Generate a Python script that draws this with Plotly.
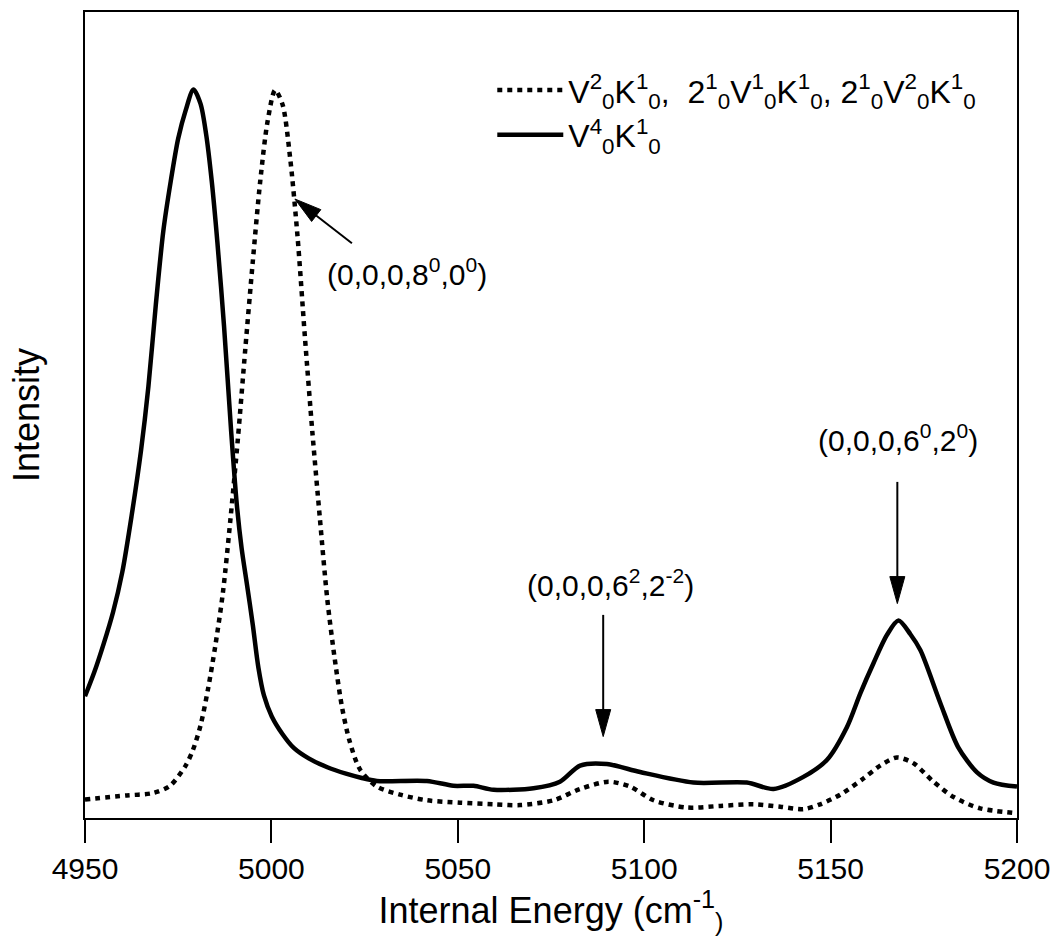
import math
import plotly.graph_objects as go

# Spectrum of the V^2_0K^1_0 / 2^1_0V^1_0K^1_0 / 2^1_0V^2_0K^1_0 band group (dotted)
energy_dotted = [4950.0, 4961.2, 4968.3, 4972.8, 4977.0, 4979.0, 4981.0, 4983.0, 4985.0,
                 4987.0, 4989.0, 4991.0, 4993.0, 4995.0, 4997.0, 4999.0, 5001.0, 5003.0,
                 5005.0, 5007.0, 5009.0, 5011.0, 5013.0, 5015.0, 5017.0, 5019.0, 5021.0,
                 5023.8, 5028.3, 5034.5, 5041.7, 5050.6, 5059.6, 5066.7, 5075.7, 5082.8,
                 5090.4, 5096.2, 5102.5, 5111.4, 5120.4, 5129.3, 5136.5, 5142.7, 5147.2,
                 5152.6, 5158.8, 5163.3, 5167.8, 5172.2, 5177.6, 5183.0, 5190.1, 5200.0]
intensity_dotted = [0.023, 0.028, 0.031, 0.040, 0.065, 0.085, 0.115, 0.160, 0.215,
                    0.280, 0.370, 0.470, 0.582, 0.690, 0.790, 0.865, 0.903, 0.885,
                    0.820, 0.722, 0.596, 0.478, 0.372, 0.271, 0.197, 0.136, 0.095,
                    0.060, 0.039, 0.029, 0.022, 0.019, 0.017, 0.016, 0.022, 0.036,
                    0.045, 0.039, 0.022, 0.013, 0.015, 0.017, 0.014, 0.011, 0.017,
                    0.029, 0.049, 0.065, 0.075, 0.068, 0.045, 0.026, 0.012, 0.006]

# Spectrum of the V^4_0K^1_0 band (solid)
energy_solid = [4950.0, 4952.5, 4955.0, 4957.5, 4960.0, 4962.5, 4965.0, 4967.0, 4969.0,
                4971.0, 4973.0, 4975.0, 4977.0, 4979.1, 4981.0, 4982.5, 4984.0, 4985.5,
                4987.3, 4989.2, 4990.7, 4992.0, 4993.5, 4995.0, 4996.5, 4998.0, 5000.1,
                5003.0, 5006.0, 5010.0, 5015.0, 5020.0, 5024.0, 5028.3, 5041.7, 5048.8,
                5054.2, 5059.6, 5070.3, 5077.4, 5082.8, 5090.0, 5098.9, 5113.2, 5127.5,
                5134.7, 5142.7, 5149.0, 5154.4, 5158.0, 5161.5, 5165.1, 5168.2, 5171.4,
                5174.1, 5179.4, 5184.2, 5189.2, 5193.7, 5200.0]
intensity_solid = [0.151, 0.181, 0.216, 0.255, 0.305, 0.375, 0.455, 0.535, 0.637,
                   0.728, 0.790, 0.843, 0.878, 0.904, 0.886, 0.848, 0.790, 0.715,
                   0.610, 0.480, 0.390, 0.335, 0.288, 0.240, 0.187, 0.152, 0.126,
                   0.104, 0.087, 0.074, 0.063, 0.055, 0.050, 0.046, 0.046, 0.040,
                   0.040, 0.035, 0.037, 0.045, 0.065, 0.067, 0.057, 0.044, 0.044,
                   0.036, 0.051, 0.072, 0.113, 0.155, 0.192, 0.227, 0.245, 0.228,
                   0.208, 0.143, 0.088, 0.057, 0.044, 0.039]

legend_dotted = ("V<sup>2</sup><sub>0</sub>K<sup>1</sup><sub>0</sub>,\u00a0 "
                 "2<sup>1</sup><sub>0</sub>V<sup>1</sup><sub>0</sub>K<sup>1</sup><sub>0</sub>, "
                 "2<sup>1</sup><sub>0</sub>V<sup>2</sup><sub>0</sub>K<sup>1</sup><sub>0</sub>")
legend_solid = "V<sup>4</sup><sub>0</sub>K<sup>1</sup><sub>0</sub>"

# Band assignments and their arrows
peak_labels = ["(0,0,0,8<sup>0</sup>,0<sup>0</sup>)",
               "(0,0,0,6<sup>2</sup>,2<sup>-2</sup>)",
               "(0,0,0,6<sup>0</sup>,2<sup>0</sup>)"]
label_x = [5036.4, 5090.9, 5168.2]
label_y = [0.678, 0.292, 0.472]
arrow_tip_x = [5006.3, 5089.0, 5167.9]
arrow_tip_y = [0.768, 0.101, 0.266]
arrow_tail_x = [5021.6, 5089.0, 5167.9]
arrow_tail_y = [0.713, 0.252, 0.417]

X_RANGE = [4950, 5200]
Y_RANGE = [0, 1]
W, H = 1055, 936
M = dict(l=85, r=38, t=12, b=118)
FONT = "Liberation Sans, Arial, sans-serif"

px_per_x = (W - M["l"] - M["r"]) / (X_RANGE[1] - X_RANGE[0])
px_per_y = (H - M["t"] - M["b"]) / (Y_RANGE[1] - Y_RANGE[0])

fig = go.Figure()
fig.add_trace(go.Scatter(
    x=energy_dotted, y=intensity_dotted, mode="lines", name=legend_dotted,
    line=dict(color="black", width=4.5, dash="5px,5px", shape="spline", smoothing=0.8),
))
fig.add_trace(go.Scatter(
    x=energy_solid, y=intensity_solid, mode="lines", name=legend_solid,
    line=dict(color="black", width=4.5, shape="spline", smoothing=0.8),
))

shapes = []
annotations = []
head_len, head_w = 27, 15
for txt, lx, ly, tx, ty, ax, ay in zip(peak_labels, label_x, label_y,
                                       arrow_tip_x, arrow_tip_y,
                                       arrow_tail_x, arrow_tail_y):
    annotations.append(dict(x=lx, y=ly, xref="x", yref="y", text=txt, showarrow=False,
                            font=dict(family=FONT, size=30, color="black"),
                            xanchor="center", yanchor="middle"))
    dxp = (ax - tx) * px_per_x
    dyp = (ay - ty) * px_per_y
    n = math.hypot(dxp, dyp)
    ux, uy = dxp / n, dyp / n
    bx, by = ux * head_len, uy * head_len
    qx, qy = -uy * head_w / 2, ux * head_w / 2
    path = (f"M0,0 L{bx + qx:.2f},{by + qy:.2f} "
            f"L{bx - qx:.2f},{by - qy:.2f} Z")
    shapes.append(dict(type="path", xsizemode="pixel", ysizemode="pixel",
                       xanchor=tx, yanchor=ty, xref="x", yref="y", path=path,
                       fillcolor="black", line=dict(color="black", width=1)))
    shapes.append(dict(type="line", xref="x", yref="y",
                       x0=ax, y0=ay,
                       x1=tx + (bx * 0.8) / px_per_x, y1=ty + (by * 0.8) / px_per_y,
                       line=dict(color="black", width=2)))

fig.update_layout(
    width=W, height=H, margin=M,
    paper_bgcolor="white", plot_bgcolor="white",
    font=dict(family=FONT, color="black", size=30),
    showlegend=True,
    legend=dict(x=0.437, y=0.937, xanchor="left", yanchor="top",
                bgcolor="rgba(0,0,0,0)", font=dict(family=FONT, size=32),
                itemwidth=66, tracegroupgap=0),
    shapes=shapes, annotations=annotations,
    xaxis=dict(range=X_RANGE, dtick=50, tick0=4950, showgrid=False, zeroline=False,
               showline=True, linecolor="black", linewidth=2, mirror=True,
               ticks="outside", ticklen=23, tickwidth=2, tickcolor="black",
               tickfont=dict(family=FONT, size=30), automargin=False,
               title=dict(text="Internal Energy (cm<sup>-1</sup><sub>)</sub>",
                          font=dict(family=FONT, size=36), standoff=13)),
    yaxis=dict(range=Y_RANGE, showgrid=False, zeroline=False, showticklabels=False,
               ticks="", showline=True, linecolor="black", linewidth=2, mirror=True,
               automargin=False,
               title=dict(text="Intensity", font=dict(family=FONT, size=36), standoff=32)),
)

fig.write_html("out.html")
